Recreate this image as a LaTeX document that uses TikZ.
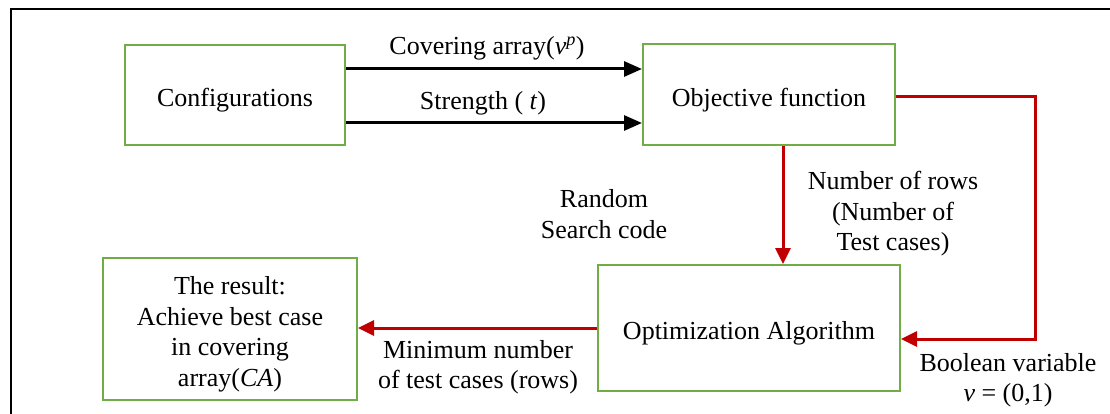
\documentclass[tikz,border=0pt]{standalone}
\usepackage{fontspec}
\setmainfont{Liberation Serif}
\usetikzlibrary{arrows.meta}
\definecolor{boxgreen}{RGB}{112,173,71}
\definecolor{arrred}{RGB}{192,0,0}
\newcommand{\dfs}{\fontsize{26}{30.5}\selectfont}
\begin{document}
\begin{tikzpicture}[x=1pt,y=-1pt,
  box/.style={draw=boxgreen,line width=2pt,inner sep=0pt,rectangle},
  lbl/.style={inner sep=0pt,align=center,font=\dfs},
  boxtext/.style={lbl,yshift=-5.5pt},
  blkarrow/.style={draw=black,line width=3pt,-{Triangle[length=18pt,width=15pt]}},
  redarrow/.style={draw=arrred,line width=3pt,-{Triangle[length=16pt,width=15pt]}},
  frameline/.style={draw=black,line width=1.8pt}]
\useasboundingbox (0,0) rectangle (1110,414);
% frame
\coordinate (fr1) at (1110,9);
\coordinate (fr2) at (11,9);
\coordinate (fr3) at (11,414);
\draw[frameline] (fr1) -- (fr2) -- (fr3);
% boxes
\node[box,minimum width=220pt,minimum height=100pt,
  label={[boxtext]center:{Configurations}}] (conf) at (235,95) {};
\node[box,minimum width=252pt,minimum height=101pt,
  label={[boxtext]center:{Objective function}}] (obj) at (769,94.5) {};
\node[box,minimum width=302pt,minimum height=126pt,
  label={[boxtext]center:{Optimization Algorithm}}] (opt) at (749,328) {};
\node[box,minimum width=254pt,minimum height=142pt,
  label={[boxtext]center:{The result:\\Achieve best case\\in covering\\array(\textit{CA})}}] (res) at (230,329) {};
% black arrows
\draw[blkarrow] (conf.east) ++(0,-26) coordinate (a1) -- (a1 -| obj.west);
\draw[blkarrow] (conf.east) ++(0,28) coordinate (a2) -- (a2 -| obj.west);
% red arrows
\draw[redarrow] ([xshift=14pt]obj.south) coordinate (d1) -- (d1 |- opt.north);
\draw[redarrow] ([yshift=-2.5pt]obj.east) -- ++(139,0) coordinate (c1) |- ([yshift=-11pt]opt.east);
\draw[redarrow] (opt.west) -- (opt.west -| res.east);
% labels
\node[lbl] (lcov) at (487,48) {Covering array(\textit{v}\textsuperscript{\textit{p}})};
\node[lbl] (lstr) at (483,103) {Strength ( \textit{t})};
\node[lbl] (lrand) at (604,214) {Random\\Search code};
\node[lbl] (lrows) at (893,214) {Number of rows\\(Number of\\Test cases)};
\node[lbl] (lmin) at (478,367) {Minimum number\\of test cases (rows)};
\node[lbl] (lbool) at (1008,380) {Boolean variable\\\textit{v} = (0,1)};
\end{tikzpicture}
\end{document}
